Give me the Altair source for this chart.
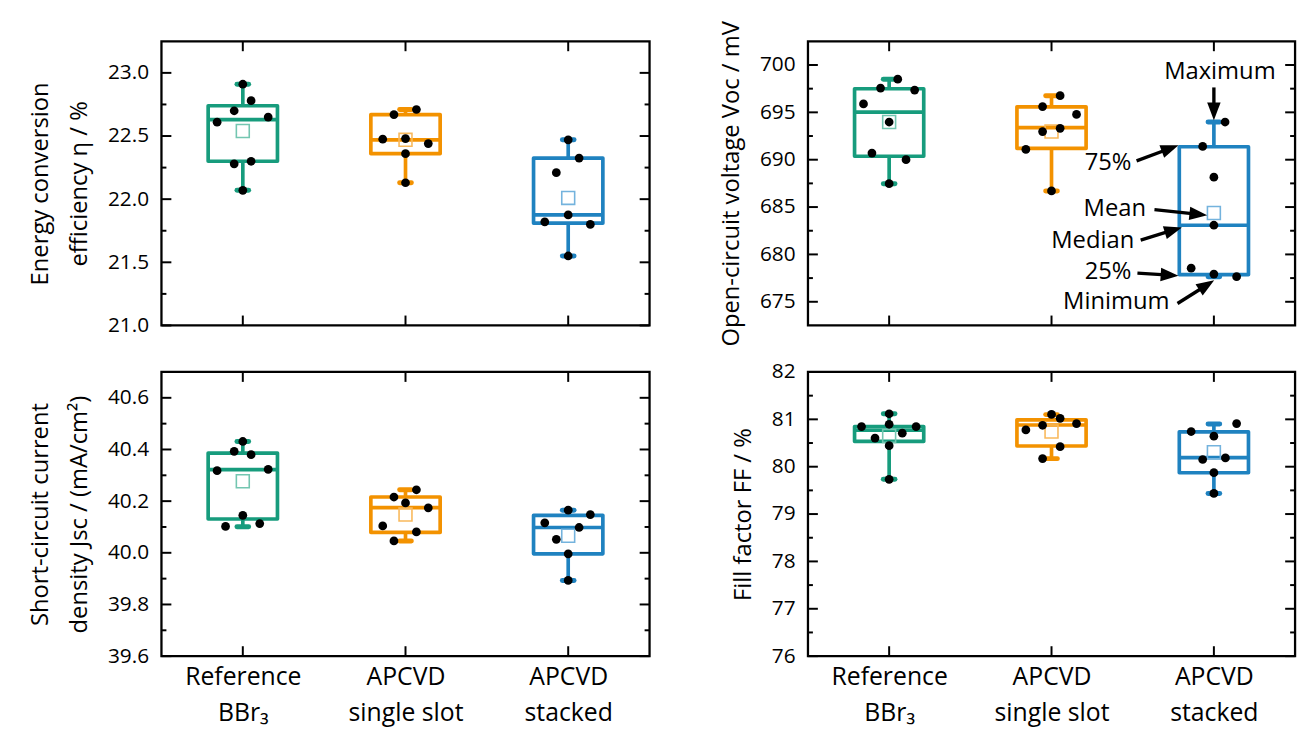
import math
import altair as alt
import pandas as pd

FONT = "Open Sans"

GROUP_POS = [1, 2, 3]
CATEGORY_LINES = [["Reference", "BBr₃"], ["APCVD", "single slot"], ["APCVD", "stacked"]]
BOX_COLORS = ["#179c7d", "#f39200", "#1f82c0"]
MEAN_COLORS = ["#74c6b1", "#f9b95c", "#74b3dd"]

# ---------------- efficiency ----------------
ETA_VALUES = [
    [22.91, 22.78, 22.70, 22.65, 22.61, 22.28, 22.30, 22.07],
    [22.71, 22.67, 22.48, 22.475, 22.44, 22.36, 22.13],
    [22.47, 22.325, 22.21, 21.875, 21.82, 21.80, 21.55],
]
ETA_JITTER = [
    [0, 0.051, -0.053, 0.156, -0.158, -0.053, 0.051, 0],
    [0.067, -0.071, 0, -0.14, 0.14, 0, 0],
    [0, 0.067, -0.073, 0, -0.144, 0.136, 0],
]
ETA_MIN = [22.07, 22.13, 21.55]
ETA_Q1 = [22.30, 22.36, 21.81]
ETA_MEDIAN = [22.63, 22.47, 21.875]
ETA_Q3 = [22.74, 22.67, 22.325]
ETA_MAX = [22.91, 22.71, 22.47]
ETA_MEAN = [22.54, 22.47, 22.01]
ETA_DOMAIN = [21.0, 23.25]
ETA_MAJOR = [21.0, 21.5, 22.0, 22.5, 23.0]
ETA_MINOR = [21.25, 21.75, 22.25, 22.75]

# ---------------- open-circuit voltage ----------------
VOC_VALUES = [
    [698.50, 697.56, 697.35, 695.89, 693.98, 690.70, 690.00, 687.47],
    [696.76, 695.61, 694.78, 693.31, 692.97, 691.09, 686.70],
    [693.98, 691.40, 688.16, 683.08, 678.55, 677.92, 677.65],
]
VOC_JITTER = [
    [0.053, -0.053, 0.157, -0.158, 0, -0.106, 0.104, 0],
    [0.053, -0.055, 0.154, 0.053, -0.055, -0.158, 0],
    [0.069, -0.069, 0, 0, -0.14, 0, 0.14],
]
VOC_MIN = [687.47, 686.70, 677.65]
VOC_Q1 = [690.36, 691.19, 677.86]
VOC_MEDIAN = [695.02, 693.38, 683.08]
VOC_Q3 = [697.49, 695.58, 691.37]
VOC_MAX = [698.50, 696.76, 693.98]
VOC_MEAN = [693.98, 692.97, 684.37]
VOC_DOMAIN = [672.5, 702.5]
VOC_MAJOR = [675, 680, 685, 690, 695, 700]
VOC_MINOR = [677.5, 682.5, 687.5, 692.5, 697.5]

# annotations in the voltage panel
ANNOT_TEXT = ["Maximum", "75%", "Mean", "Median", "25%", "Minimum"]
ANNOT_X = [3.037, 2.348, 2.390, 2.254, 2.348, 2.399]
ANNOT_Y = [699.2, 689.6, 684.75, 681.4, 678.10, 674.93]
ARROW_X1 = [3.0, 2.524, 2.634, 2.549, 2.529, 2.776]
ARROW_Y1 = [697.63, 689.88, 684.73, 681.52, 678.03, 674.82]
ARROW_X2 = [3.0, 2.782, 2.959, 2.803, 2.782, 3.002]
ARROW_Y2 = [694.17, 691.53, 684.13, 682.85, 677.75, 677.26]

# ---------------- short-circuit current density ----------------
JSC_VALUES = [
    [40.431, 40.393, 40.380, 40.318, 40.323, 40.145, 40.102, 40.113],
    [40.244, 40.216, 40.193, 40.174, 40.104, 40.081, 40.046],
    [40.165, 40.148, 40.116, 40.098, 40.052, 39.996, 39.893],
]
JSC_JITTER = [
    [0, -0.053, 0.051, -0.158, 0.156, 0, -0.106, 0.104],
    [0.067, -0.071, 0, 0.14, -0.14, 0.067, -0.071],
    [0, 0.136, -0.144, 0.067, -0.073, 0, 0],
]
JSC_MIN = [40.101, 40.046, 39.893]
JSC_Q1 = [40.131, 40.079, 39.996]
JSC_MEDIAN = [40.322, 40.175, 40.098]
JSC_Q3 = [40.386, 40.216, 40.145]
JSC_MAX = [40.431, 40.244, 40.165]
JSC_MEAN = [40.277, 40.148, 40.066]
JSC_DOMAIN = [39.6, 40.7]
JSC_MAJOR = [39.6, 39.8, 40.0, 40.2, 40.4, 40.6]
JSC_MINOR = [39.7, 39.9, 40.1, 40.3, 40.5]

# ---------------- fill factor ----------------
FF_VALUES = [
    [81.118, 80.847, 80.896, 80.847, 80.708, 80.604, 80.444, 79.734],
    [81.104, 81.021, 80.910, 80.875, 80.777, 80.423, 80.172],
    [80.910, 80.743, 80.645, 80.152, 80.186, 79.873, 79.435],
]
FF_JITTER = [
    [0, -0.170, 0, 0.166, 0.081, -0.087, 0, 0],
    [0, 0.053, 0.154, -0.055, -0.158, 0.053, -0.055],
    [0.14, -0.14, 0, -0.069, 0.071, 0, 0],
]
FF_MIN = [79.734, 80.17, 79.435]
FF_Q1 = [80.534, 80.437, 79.873]
FF_MEDIAN = [80.77, 80.88, 80.193]
FF_Q3 = [80.847, 80.99, 80.736]
FF_MAX = [81.118, 81.10, 80.90]
FF_MEAN = [80.65, 80.743, 80.305]
FF_DOMAIN = [76, 82]
FF_MAJOR = [76, 77, 78, 79, 80, 81, 82]
FF_MINOR = [76.5, 77.5, 78.5, 79.5, 80.5, 81.5]

# ---------------- layout / style ----------------
W_LEFT = 493
W_RIGHT = 492
H = 287
X_DOMAIN = [0.5, 3.5]
BOX_HALF = 0.213
CAP_HALF = 0.036
MAJOR_LEN = 10
MINOR_LEN = 5
LINE_W = 3.7


def label_expr():
    parts = []
    for pos, lines in zip(GROUP_POS, CATEGORY_LINES):
        arr = "[" + ", ".join("'" + s + "'" for s in lines) + "]"
        parts.append((pos, arr))
    expr = parts[-1][1]
    for pos, arr in reversed(parts[:-1]):
        expr = f"datum.value == {pos} ? {arr} : ({expr})"
    return expr


def panel(values, jitter, vmin, q1, med, q3, vmax, mean, domain, major, minor,
          fmt, title, width, show_x_labels, extra=None):
    xscale = alt.Scale(domain=X_DOMAIN, nice=False, zero=False)
    yscale = alt.Scale(domain=domain, nice=False, zero=False)
    if show_x_labels:
        xaxis = alt.Axis(values=GROUP_POS, labelExpr=label_expr(), title=None,
                         ticks=False, domain=False, grid=False, labelFontSize=25,
                         labelLineHeight=36, labelPadding=9, labelBaseline="top",
                         labelFont=FONT, labelColor="black")
    else:
        xaxis = None
    yaxis = alt.Axis(values=major, format=fmt, title=title, ticks=False, domain=False,
                     grid=False, labelPadding=13, titlePadding=16)

    def X(f):
        return alt.X(f, type="quantitative", scale=xscale, axis=xaxis)

    def Y(f):
        return alt.Y(f, type="quantitative", scale=yscale, axis=yaxis)

    pts = []
    for gi, (vals, jit) in enumerate(zip(values, jitter)):
        for v, j in zip(vals, jit):
            pts.append({"x": GROUP_POS[gi] + j, "v": v})
    pts = pd.DataFrame(pts)

    stats = pd.DataFrame({
        "g": GROUP_POS, "lo": vmin, "q1": q1, "med": med, "q3": q3, "hi": vmax,
        "mean": mean, "color": BOX_COLORS, "mcolor": MEAN_COLORS,
    })
    stats["left"] = stats["g"] - BOX_HALF
    stats["right"] = stats["g"] + BOX_HALF
    stats["cl"] = stats["g"] - CAP_HALF
    stats["cr"] = stats["g"] + CAP_HALF

    whisk = pd.concat([
        stats[["g", "color"]].assign(a=stats["q3"], b=stats["hi"]),
        stats[["g", "color"]].assign(a=stats["lo"], b=stats["q1"]),
    ])
    caps = pd.concat([
        stats[["cl", "cr", "color"]].assign(y=stats["hi"]),
        stats[["cl", "cr", "color"]].assign(y=stats["lo"]),
    ])

    base_stats = alt.Chart(stats)
    layers = [
        alt.Chart(whisk).mark_rule(strokeWidth=LINE_W).encode(
            x=X("g"), y=Y("a"), y2="b", color=alt.Color("color:N", scale=None)),
        alt.Chart(caps).mark_rule(strokeWidth=5, strokeCap="round").encode(
            x=X("cl"), x2="cr", y=Y("y"), color=alt.Color("color:N", scale=None)),
        base_stats.mark_rect(fillOpacity=0, strokeWidth=LINE_W, strokeJoin="round").encode(
            x=X("left"), x2="right", y=Y("q1"), y2="q3",
            stroke=alt.Stroke("color:N", scale=None)),
        base_stats.mark_rule(strokeWidth=LINE_W).encode(
            x=X("left"), x2="right", y=Y("med"), color=alt.Color("color:N", scale=None)),
        base_stats.mark_point(shape="square", filled=False, size=170, strokeWidth=1.6,
                              opacity=1).encode(
            x=X("g"), y=Y("mean"), color=alt.Color("mcolor:N", scale=None)),
        alt.Chart(pts).mark_circle(size=78, color="black", opacity=1).encode(
            x=X("x"), y=Y("v")),
    ]

    # inward ticks on all four sides
    maj = pd.DataFrame({"v": major})
    mnr = pd.DataFrame({"v": minor})
    grp = pd.DataFrame({"g": GROUP_POS})
    tick = dict(strokeWidth=2, color="black")
    layers += [
        alt.Chart(maj).mark_rule(**tick).encode(y=Y("v"), x=alt.value(0), x2=alt.value(MAJOR_LEN)),
        alt.Chart(mnr).mark_rule(**tick).encode(y=Y("v"), x=alt.value(0), x2=alt.value(MINOR_LEN)),
        alt.Chart(maj).mark_rule(**tick).encode(y=Y("v"), x=alt.value(width - MAJOR_LEN), x2=alt.value(width)),
        alt.Chart(mnr).mark_rule(**tick).encode(y=Y("v"), x=alt.value(width - MINOR_LEN), x2=alt.value(width)),
        alt.Chart(grp).mark_rule(**tick).encode(x=X("g"), y=alt.value(0), y2=alt.value(MAJOR_LEN)),
        alt.Chart(grp).mark_rule(**tick).encode(x=X("g"), y=alt.value(H - MAJOR_LEN), y2=alt.value(H)),
    ]

    if extra is not None:
        layers += extra(X, Y)

    return alt.layer(*layers).properties(width=width, height=H)


def voc_annotations(X, Y):
    px_x = W_RIGHT / (X_DOMAIN[1] - X_DOMAIN[0])
    px_y = H / (VOC_DOMAIN[1] - VOC_DOMAIN[0])
    head = 13.0
    rows = []
    for x1, y1, x2, y2 in zip(ARROW_X1, ARROW_Y1, ARROW_X2, ARROW_Y2):
        dx = (x2 - x1) * px_x
        dy = -(y2 - y1) * px_y
        L = math.hypot(dx, dy)
        ang = math.degrees(math.atan2(dx, -dy)) % 360
        xe = x2 - dx / L * head / px_x
        ye = y2 + dy / L * head / px_y
        rows.append({"x1": x1, "y1": y1, "xe": xe, "ye": ye, "x2": x2, "y2": y2, "ang": ang})
    arr = pd.DataFrame(rows)
    txt = pd.DataFrame({"x": ANNOT_X, "y": ANNOT_Y, "t": ANNOT_TEXT})
    return [
        alt.Chart(arr).mark_rule(strokeWidth=3.4, color="black").encode(
            x=X("x1"), x2="xe", y=Y("y1"), y2="ye"),
        alt.Chart(arr).mark_point(shape="M0,0L0.68,1.8L-0.68,1.8Z", filled=True, size=400,
                                  color="black", opacity=1, strokeWidth=0).encode(
            x=X("x2"), y=Y("y2"), angle=alt.Angle("ang:Q", scale=None)),
        alt.Chart(txt).mark_text(font=FONT, fontSize=24, align="center", baseline="middle",
                                 color="black").encode(x=X("x"), y=Y("y"), text="t:N"),
    ]


tl = panel(ETA_VALUES, ETA_JITTER, ETA_MIN, ETA_Q1, ETA_MEDIAN, ETA_Q3, ETA_MAX, ETA_MEAN,
           ETA_DOMAIN, ETA_MAJOR, ETA_MINOR, ".1f",
           ["Energy conversion", "efficiency η / %"], W_LEFT, False)
tr = panel(VOC_VALUES, VOC_JITTER, VOC_MIN, VOC_Q1, VOC_MEDIAN, VOC_Q3, VOC_MAX, VOC_MEAN,
           VOC_DOMAIN, VOC_MAJOR, VOC_MINOR, "d",
           "Open-circuit voltage Voc / mV", W_RIGHT, False, extra=voc_annotations)
bl = panel(JSC_VALUES, JSC_JITTER, JSC_MIN, JSC_Q1, JSC_MEDIAN, JSC_Q3, JSC_MAX, JSC_MEAN,
           JSC_DOMAIN, JSC_MAJOR, JSC_MINOR, ".1f",
           ["Short-circuit current", "density Jsc / (mA/cm²)"], W_LEFT, True)
br = panel(FF_VALUES, FF_JITTER, FF_MIN, FF_Q1, FF_MEDIAN, FF_Q3, FF_MAX, FF_MEAN,
           FF_DOMAIN, FF_MAJOR, FF_MINOR, "d",
           "Fill factor FF / %", W_RIGHT, True)

chart = alt.concat(tl, tr, bl, br, columns=2, spacing={"row": 47, "column": 160},
                   bounds="flush").configure(
    font=FONT, padding={"left": 19, "top": 7, "right": 4, "bottom": 2}
).configure_view(stroke="black", strokeWidth=2.3).configure_axis(
    labelFont=FONT, titleFont=FONT, labelFontSize=21, titleFontSize=24,
    labelColor="black", titleColor="black", titleFontWeight="normal",
    titleLineHeight=40, grid=False, ticks=False, domain=False,
)

chart.save("out.html", embed_options={"renderer": "svg", "actions": False})
